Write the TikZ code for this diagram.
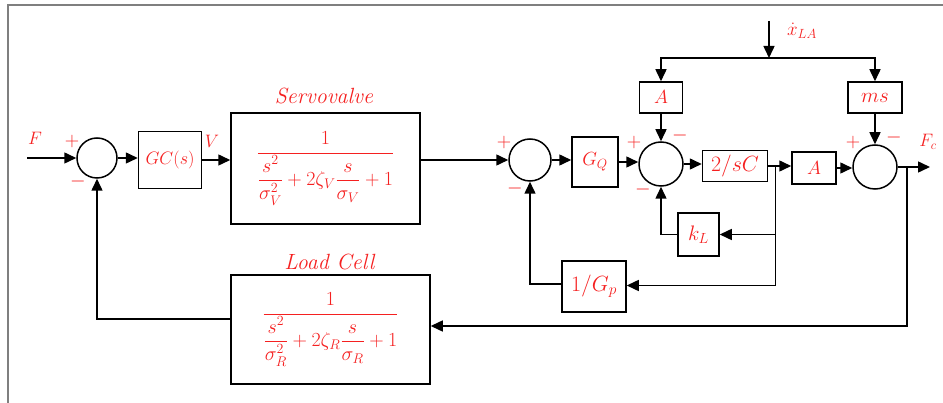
\RequirePackage{fix-cm}
\documentclass[tikz,border=0pt]{standalone}
\usepackage{amsmath}
\usepackage{xcolor}
\usetikzlibrary{arrows.meta,calc}
\definecolor{signalred}{HTML}{F52020}
\definecolor{framegray}{HTML}{7F7F7F}
\tikzset{
  signal/.style={black, -{Triangle[length=12pt,width=11pt]}, line width=1.5pt},
  sumnode/.style={circle, draw=black, line width=1.5pt, minimum size=42pt, inner sep=0pt},
  blocknode/.style={draw=black, line width=1.5pt, inner sep=0pt, text=signalred, font=\fontsize{19}{22}\selectfont},
  labelnode/.style={text=signalred, inner sep=0pt, font=\fontsize{18}{21}\selectfont},
  signnode/.style={text=signalred, inner sep=0pt, font=\fontsize{20}{22}\selectfont}
}

\begin{document}
\begin{tikzpicture}[x=1pt,y=-1pt]
  \useasboundingbox (0,0) rectangle (943,403);
  \draw[framegray, line width=2pt] (7.5,403) -- (7.5,5.5) -- (943,5.5);
  % outer loop
  \node[sumnode, minimum size=40pt] (sumF) at (97,158) {};
  \node[blocknode, minimum width=63pt, minimum height=57pt, font=\fontsize{18}{21}\selectfont] (gc) at (170,160) {$GC(s)$};
  \node[blocknode, minimum width=189pt, minimum height=111pt, font=\fontsize{20}{23}\selectfont] (servo) at (325.5,168.5)
    {$\dfrac{1}{\dfrac{s^2}{\sigma_V^2}+2\zeta_V\dfrac{s}{\sigma_V}+1}$};
  \node[blocknode, minimum width=199pt, minimum height=109pt, font=\fontsize{20}{23}\selectfont] (lc) at (330.5,329.5)
    {$\dfrac{1}{\dfrac{s^2}{\sigma_R^2}+2\zeta_R\dfrac{s}{\sigma_R}+1}$};
  \node[labelnode, font=\fontsize{22}{25}\selectfont] (ttlServo) at (324,96) {\textit{Servovalve}};
  \node[labelnode, font=\fontsize{22}{25}\selectfont] (ttlLoad) at (330,262) {\textit{Load Cell}};
  % actuator
  \node[sumnode] (sumErr) at (530,160) {};
  \node[blocknode, minimum width=46pt, minimum height=50pt] (gq) at (595,162) {$G_Q$};
  \node[sumnode, minimum size=44pt] (sumFlow) at (661,164) {};
  \node[blocknode, minimum width=43pt, minimum height=31pt] (atop) at (661,97.5) {$A$};
  \node[blocknode, minimum width=54pt, minimum height=31pt, font=\fontsize{21}{24}\selectfont] (mstop) at (875,97.5) {$ms$};
  \node[blocknode, minimum width=65pt, minimum height=31pt, font=\fontsize{22}{25}\selectfont] (sc) at (735,166) {$2/sC$};
  \node[blocknode, minimum width=44pt, minimum height=32pt] (amid) at (814,168) {$A$};
  \node[sumnode, minimum size=44pt] (sumForce) at (875,167) {};
  \node[blocknode, minimum width=41pt, minimum height=43pt, font=\fontsize{21}{24}\selectfont] (kl) at (698.5,234.5) {$k_L$};
  \node[blocknode, minimum width=64pt, minimum height=51pt, font=\fontsize{22}{25}\selectfont] (gp) at (594,286.5) {$1/G_p$};

  \coordinate (fin) at (27,158);
  \coordinate (fout) at (930,167);
  \coordinate (xin) at (769,21);
  \coordinate (xj) at (769,58);
  \coordinate (brP) at ($(sc.east)+(7,0)$);
  \coordinate (brF) at ($(sumForce.east)+(9,0)$);

  \draw[signal] (fin) -- (sumF.west);
  \draw[signal] (sumF.east) -- (sumF.east -| gc.west);
  \draw[signal] (gc.east) -- (gc.east -| servo.west);
  \draw[signal] (servo.east |- sumErr.west) -- (sumErr.west);
  \draw[signal] (sumErr.east) -- (sumErr.east -| gq.west);
  \draw[signal] (gq.east) -- (gq.east -| sumFlow.west);
  \draw[signal] (sumFlow.east) -- (sumFlow.east -| sc.west);
  \draw[signal] (sc.east) -- (sc.east -| amid.west);
  \draw[signal] (amid.east) -- (amid.east -| sumForce.west);
  \draw[signal] (sumForce.east) -- (fout);
  \draw[signal] (xin) -- (xj);
  \draw[signal] (xj) -| (atop.north);
  \draw[signal] (xj) -| (mstop.north);
  \draw[signal] (atop.south) -- (sumFlow.north);
  \draw[signal] (mstop.south) -- (sumForce.north);
  \draw[signal] (brP) |- (kl.east);
  \draw[signal] (brP) |- ([yshift=1pt]gp.east);
  \draw[signal] (kl.west) -| (sumFlow.south);
  \draw[signal] ([yshift=2.5pt]gp.west) -| (sumErr.south);
  \draw[signal] (brF) |- ([yshift=3.5pt]lc.east);
  \draw[signal] ([yshift=10.5pt]lc.west) -| (sumF.south);

  % signal names
  \node[labelnode] (lblF) at (35,138) {$F$};
  \node[labelnode] (lblV) at (212,141) {$V$};
  \node[labelnode] (lblFc) at (928,142) {$F_c$};
  \node[labelnode, font=\fontsize{19}{22}\selectfont] (lblX) at (802,31) {$\dot{x}_{LA}$};
  % signs
  \node[signnode] (sgF1) at (72,142) {$+$};
  \node[signnode] (sgF2) at (78,182) {$-$};
  \node[signnode] (sgE1) at (504,143) {$+$};
  \node[signnode] (sgE2) at (515,189) {$-$};
  \node[signnode] (sgQ1) at (634,143) {$+$};
  \node[signnode] (sgQ2) at (680,136) {$-$};
  \node[signnode] (sgQ3) at (643,190) {$-$};
  \node[signnode] (sgM1) at (853,143) {$+$};
  \node[signnode] (sgM2) at (894,138) {$-$};
\end{tikzpicture}
\end{document}
